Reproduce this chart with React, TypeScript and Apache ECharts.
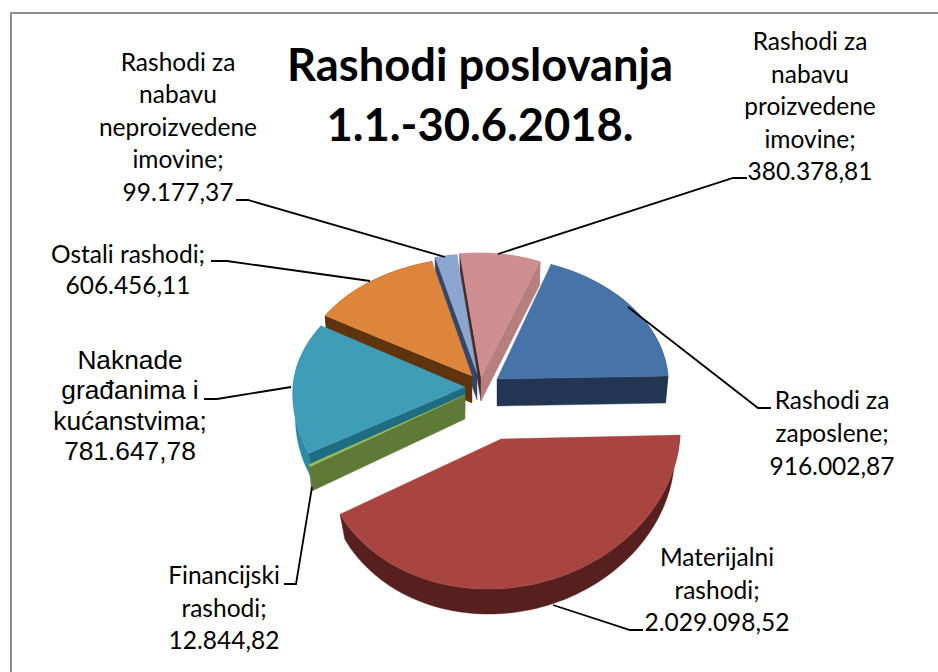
import React, { useEffect, useRef } from "react";
import * as echarts from "echarts";

const titleLines = ["Rashodi poslovanja", "1.1.-30.6.2018."];
const categories = [
  "Rashodi za\nzaposlene",
  "Materijalni\nrashodi",
  "Financijski\nrashodi",
  "Naknade\ngrađanima i\nkućanstvima",
  "Ostali rashodi",
  "Rashodi za\nnabavu\nneproizvedene\nimovine",
  "Rashodi za\nnabavu\nproizvedene\nimovine",
];
const values = [916002.87, 2029098.52, 12844.82, 781647.78, 606456.11, 99177.37, 380378.81];
const firstSliceAngle = 21.7;
const paintOrder = [0, 6, 5, 4, 3, 2, 1];

const topColors = ["#4673a8", "#a94541", "#9bbb59", "#3f9db8", "#de853c", "#8ca6d0", "#cf8e90"];
const rimColors = ["#223654", "#57201f", "#5f7a36", "#2c8aa3", "#6a3a10", "#35496b", "#b77e7f"];
const startCutColors = ["#223654", "#57201f", "#5f7a36", "#1f6d83", "#5f330d", "#33476a", "#4a2a28"];
const endCutColors = ["#223654", "#57201f", "#5f7a36", "#1f6d83", "#5f330d", "#33476a", "#b77e7f"];

// exploded position and projected ellipse of each slice
const shapes = [
  { ax: 497, ay: 379, rx: 171, ryB: 122, ryF: 122, skew: -10, tilt: 3, depth: 27, shrink: 0.985 },
  { ax: 501, ay: 439, rx: 179, ryB: 150, ryF: 150, skew: 8, tilt: 4, depth: 25, shrink: 0.97 },
  { ax: 465, ay: 395, rx: 172, ryB: 120, ryF: 150, skew: 8, tilt: 0, depth: 24, shrink: 0.985 },
  { ax: 465, ay: 387, rx: 172, ryB: 120, ryF: 143, skew: 8, tilt: 0, depth: 24, shrink: 0.985 },
  { ax: 472, ay: 376, rx: 172, ryB: 118, ryF: 118, skew: 2, tilt: 0, depth: 27, shrink: 0.985 },
  { ax: 477, ay: 373, rx: 172, ryB: 119, ryF: 119, skew: 0, tilt: 0, depth: 27, shrink: 0.985 },
  { ax: 481, ay: 377, rx: 165, ryB: 124, ryF: 124, skew: -2, tilt: 0, depth: 24, shrink: 0.985 },
];

const labelPlaces = [
  { x: 832, y: 432, lh: 33, font: "Lato", size: 24.5 },
  { x: 717, y: 589, lh: 32.5, font: "Lato", size: 24.5 },
  { x: 224, y: 607, lh: 32.5, font: "Lato", size: 24.5 },
  { x: 130, y: 405.5, lh: 30.5, font: "Liberation Sans", size: 26.3 },
  { x: 128, y: 269, lh: 31, font: "Lato", size: 24.5 },
  { x: 178, y: 126, lh: 32.5, font: "Lato", size: 24.5 },
  { x: 810, y: 105.5, lh: 32.5, font: "Lato", size: 24.5 },
];

const leaders = [
  [[628, 307], [758, 408], [771, 408]],
  [[553, 605], [630, 630], [643, 630]],
  [[312, 487], [296, 584], [284, 584]],
  [[291, 387], [217, 399], [204, 399]],
  [[370, 281], [227, 261], [211, 261]],
  [[445, 257], [248, 200], [236, 200]],
  [[498, 254], [733, 178], [747, 178]],
];

const fmt = (v: number) => {
  const [a, b] = v.toFixed(2).split(".");
  return a.replace(/\B(?=(\d{3})+$)/g, ".") + "," + b;
};

const total = values.reduce((s, v) => s + v, 0);

function sliceAngles(i: number): [number, number] {
  let before = 0;
  for (let k = 0; k < i; k++) before += values[k];
  const a = firstSliceAngle + (before / total) * 360;
  return [a, a + (values[i] / total) * 360];
}

function point(i: number, deg: number): [number, number] {
  const s = shapes[i];
  const t = (deg * Math.PI) / 180;
  const c = Math.cos(t);
  const n = Math.sin(t);
  return [s.ax + s.rx * n + s.skew * c, s.ay - (c >= 0 ? s.ryB : s.ryF) * c - s.tilt * n];
}

function renderItem(_params: any, api: any) {
  const i = api.value(0);
  const [a0, a1] = sliceAngles(i);
  const s = shapes[i];
  const steps = Math.max(2, Math.ceil((a1 - a0) / 2));
  const rim: [number, number][] = [];
  for (let k = 0; k <= steps; k++) rim.push(point(i, a0 + ((a1 - a0) * k) / steps));
  const apex: [number, number] = [s.ax, s.ay];
  const down = (p: [number, number]): [number, number] => [
    s.ax + (p[0] - s.ax) * s.shrink,
    p[1] + s.depth,
  ];
  const poly = (points: [number, number][], fill: string) => ({
    type: "polygon",
    shape: { points },
    style: { fill, stroke: fill, lineWidth: 0.4 },
  });
  const children = [
    poly([...rim, ...rim.map(down).reverse()], rimColors[i]),
    poly([apex, rim[0], down(rim[0]), down(apex)], startCutColors[i]),
    poly([apex, rim[rim.length - 1], down(rim[rim.length - 1]), down(apex)], endCutColors[i]),
    poly([apex, ...rim], topColors[i]),
  ];
  // cut faces turned away from the viewer stay hidden below the top face
  const shown = [children[0]];
  const frontFacing = (deg: number) => Math.cos((deg * Math.PI) / 180) < 0;
  if (frontFacing(a0 - 90)) shown.push(children[1]);
  if (frontFacing(a1 + 90)) shown.push(children[2]);
  shown.push(children[3]);
  return { type: "group", children: shown };
}

export default function App() {
  const ref = useRef<HTMLDivElement>(null);
  useEffect(() => {
    document.body.style.margin = "0";
    const chart = echarts.init(ref.current!, undefined, { renderer: "svg" });
    const black = "#000000";
    const graphics: any[] = [
      { type: "line", shape: { x1: 11, y1: 13, x2: 938, y2: 13 }, style: { stroke: "#8f8f8f", lineWidth: 2 } },
      { type: "line", shape: { x1: 11, y1: 12, x2: 11, y2: 672 }, style: { stroke: "#8f8f8f", lineWidth: 2 } },
    ];
    titleLines.forEach((t, i) => {
      graphics.push({
        type: "text",
        x: 480,
        y: 63 + i * 60,
        z: 10,
        style: {
          text: t,
          fill: black,
          fontFamily: "Lato",
          fontWeight: "bold",
          fontSize: 45.3,
          textAlign: "center",
          textVerticalAlign: "middle",
          verticalAlign: "middle",
        },
      });
    });
    categories.forEach((c, i) => {
      const p = labelPlaces[i];
      graphics.push({
        type: "text",
        x: p.x,
        y: p.y,
        z: 10,
        style: {
          text: `${c};\n${fmt(values[i])}`,
          fill: black,
          fontFamily: p.font,
          fontSize: p.size,
          lineHeight: p.lh,
          textAlign: "center",
          textVerticalAlign: "middle",
          verticalAlign: "middle",
        },
      });
      graphics.push({
        type: "polyline",
        z: 10,
        shape: { points: leaders[i] },
        style: { stroke: black, lineWidth: 1.8, fill: "none" },
      });
    });
    chart.setOption({
      animation: false,
      backgroundColor: "#ffffff",
      series: [
        {
          type: "custom",
          coordinateSystem: "none",
          silent: true,
          renderItem,
          data: paintOrder.map((i) => [i, values[i]]),
        },
      ],
      graphic: graphics,
    });
    return () => chart.dispose();
  }, []);
  return <div ref={ref} style={{ position: "absolute", left: 0, top: 0, width: 938, height: 672 }} />;
}
